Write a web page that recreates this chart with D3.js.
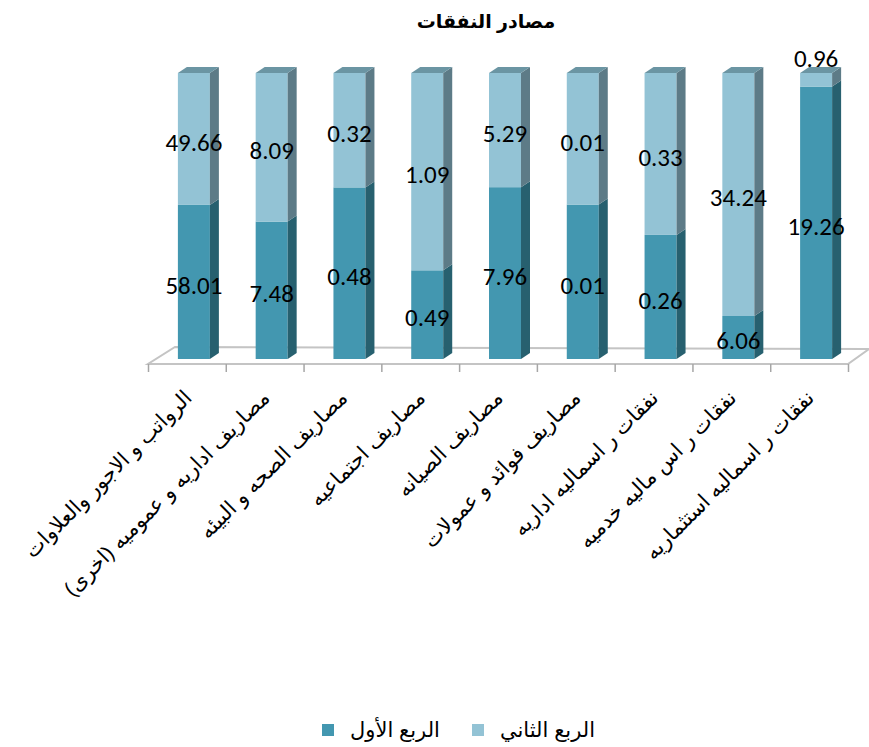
<!DOCTYPE html>
<html>
<head>
<meta charset="utf-8">
<script src="https://cdn.jsdelivr.net/npm/d3@7"></script>
<style>
  body { margin: 0; background: #fff; }
  #chart svg { display: block; }
</style>
</head>
<body>
<div id="chart"></div>
<script>
const CATEGORIES = [
  'الرواتب و  الاجور والعلاوات',
  'مصاريف اداريه و  عموميه (اخرى)',
  'مصاريف الصحه و  البيئه',
  'مصاريف اجتماعيه',
  'مصاريف الصيانه',
  'مصاريف فوائد و  عمولات',
  'نفقات ر اسماليه اداريه',
  'نفقات ر اس ماليه خدميه',
  'نفقات ر اسماليه استثماريه',
];
const FIRST_QUARTER = [58.01, 7.48, 0.48, 0.49, 7.96, 0.0108, 0.256, 6.06, 19.26];
const SECOND_QUARTER = [49.66, 8.09, 0.32, 1.09, 5.29, 0.0092, 0.334, 34.24, 0.96];
const SERIES_NAMES = ['الربع الأول', 'الربع الثاني'];
const TITLE = 'مصادر النفقات';

const SVG = d3.select('#chart').append('svg').attr('width', 869).attr('height', 747);

const FRONT = ['#4397b0', '#93c3d5'];
const SIDE = ['#27606f', '#5d7b87'];
const TOP = '#6b95a3';

const BAR_W = 32;
const SHIFT = 7;
const DX = 9;
const DY = -6;

const rows = CATEGORIES.map((c, i) => ({ cat: c, q1: FIRST_QUARTER[i], q2: SECOND_QUARTER[i] }));
const STACK = d3.stack().keys(['q1', 'q2']).offset(d3.stackOffsetExpand)(rows);

const X = d3.scaleBand().domain(CATEGORIES).range([148, 848]);
const Y = d3.scaleLinear().domain([0, 1]).range([359, 73]);
const TICKS = d3.scaleLinear().domain([0, CATEGORIES.length]).range(X.range());

// floor
const [FL, FR] = X.range();
SVG.append('polygon')
  .attr('points', [[FL, 364], [FR, 364], [FR + 21, 349], [FL + 27, 347]].join(' '))
  .style('fill', '#fff')
  .style('stroke', '#c4c4c4')
  .style('stroke-width', 2);

const X_AXIS = d3.axisBottom(TICKS)
  .tickValues(d3.range(CATEGORIES.length + 1))
  .tickFormat('')
  .tickSize(8)
  .tickSizeOuter(0);
const X_AXIS_GROUP = SVG.append('g').attr('transform', 'translate(0,364)');
X_AXIS(X_AXIS_GROUP);
X_AXIS_GROUP.select('.domain').remove();
X_AXIS_GROUP.selectAll('line').style('stroke', '#a6a6a6').style('stroke-width', 1.5);

const barX = (d) => X(d.data.cat) + X.bandwidth() / 2 + SHIFT - BAR_W / 2;

STACK.forEach((s, k) => {
  const g = SVG.append('g').attr('class', 'series-' + k);
  g.selectAll('rect')
    .data(s)
    .join('rect')
    .attr('x', barX)
    .attr('y', (d) => Y(d[1]))
    .attr('width', BAR_W)
    .attr('height', (d) => Y(d[0]) - Y(d[1]))
    .style('fill', FRONT[k]);
  g.selectAll('polygon.side')
    .data(s)
    .join('polygon')
    .attr('class', 'side')
    .attr('points', (d) => {
      const x1 = barX(d) + BAR_W;
      return [[x1, Y(d[1])], [x1 + DX, Y(d[1]) + DY], [x1 + DX, Y(d[0]) + DY], [x1, Y(d[0])]].join(' ');
    })
    .style('fill', SIDE[k]);
  if (k === STACK.length - 1) {
    g.selectAll('polygon.top')
      .data(s)
      .join('polygon')
      .attr('class', 'top')
      .attr('points', (d) => {
        const x0 = barX(d);
        const y = Y(d[1]);
        return [[x0, y], [x0 + BAR_W, y], [x0 + BAR_W + DX, y + DY], [x0 + DX, y + DY]].join(' ');
      })
      .style('fill', TOP);
  }
});

// value labels
STACK.forEach((s, k) => {
  SVG.append('g')
    .selectAll('text')
    .data(s)
    .join('text')
    .attr('x', (d) => barX(d) + BAR_W / 2)
    .attr('y', (d) => {
      const h = Y(d[0]) - Y(d[1]);
      if (h < 24) return Y(d[1]) - 15;
      return (Y(d[0]) + Y(d[1])) / 2 + 3;
    })
    .attr('dy', '0.35em')
    .style('text-anchor', 'middle')
    .style('font-family', 'Carlito, Lato, sans-serif')
    .style('font-size', '25px')
    .style('fill', '#000')
    .text((d) => d3.format('.2f')(d.data[s.key]));
});

// category labels
SVG.append('g')
  .selectAll('text')
  .data(CATEGORIES)
  .join('text')
  .attr('transform', (d) => `translate(${X(d) + X.bandwidth() / 2 + 1},394) rotate(-45)`)
  .attr('dy', '0.35em')
  .attr('direction', 'rtl')
  .style('text-anchor', 'start')
  .style('font-family', 'Arial, "DejaVu Sans", sans-serif')
  .style('font-size', '21px')
  .style('fill', '#000')
  .text((d) => d);

// title
SVG.append('text')
  .attr('x', 486)
  .attr('y', 28)
  .style('text-anchor', 'middle')
  .style('font-family', 'Arial, "DejaVu Sans", sans-serif')
  .style('font-weight', 'bold')
  .style('font-size', '19px')
  .text(TITLE);

// legend
const LEGEND = SVG.append('g').attr('transform', 'translate(322,730)');
const LEGEND_X = [0, 150];
SERIES_NAMES.forEach((name, k) => {
  const item = LEGEND.append('g').attr('transform', `translate(${LEGEND_X[k]},0)`);
  item.append('rect')
    .attr('x', 0)
    .attr('y', -6)
    .attr('width', 12)
    .attr('height', 12)
    .style('fill', FRONT[k]);
  item.append('text')
    .attr('x', 28)
    .attr('dy', '0.35em')
    .attr('direction', 'rtl')
    .style('text-anchor', 'end')
    .style('font-family', 'Arial, "DejaVu Sans", sans-serif')
    .style('font-size', '21px')
    .text(name);
});
</script>
</body>
</html>
